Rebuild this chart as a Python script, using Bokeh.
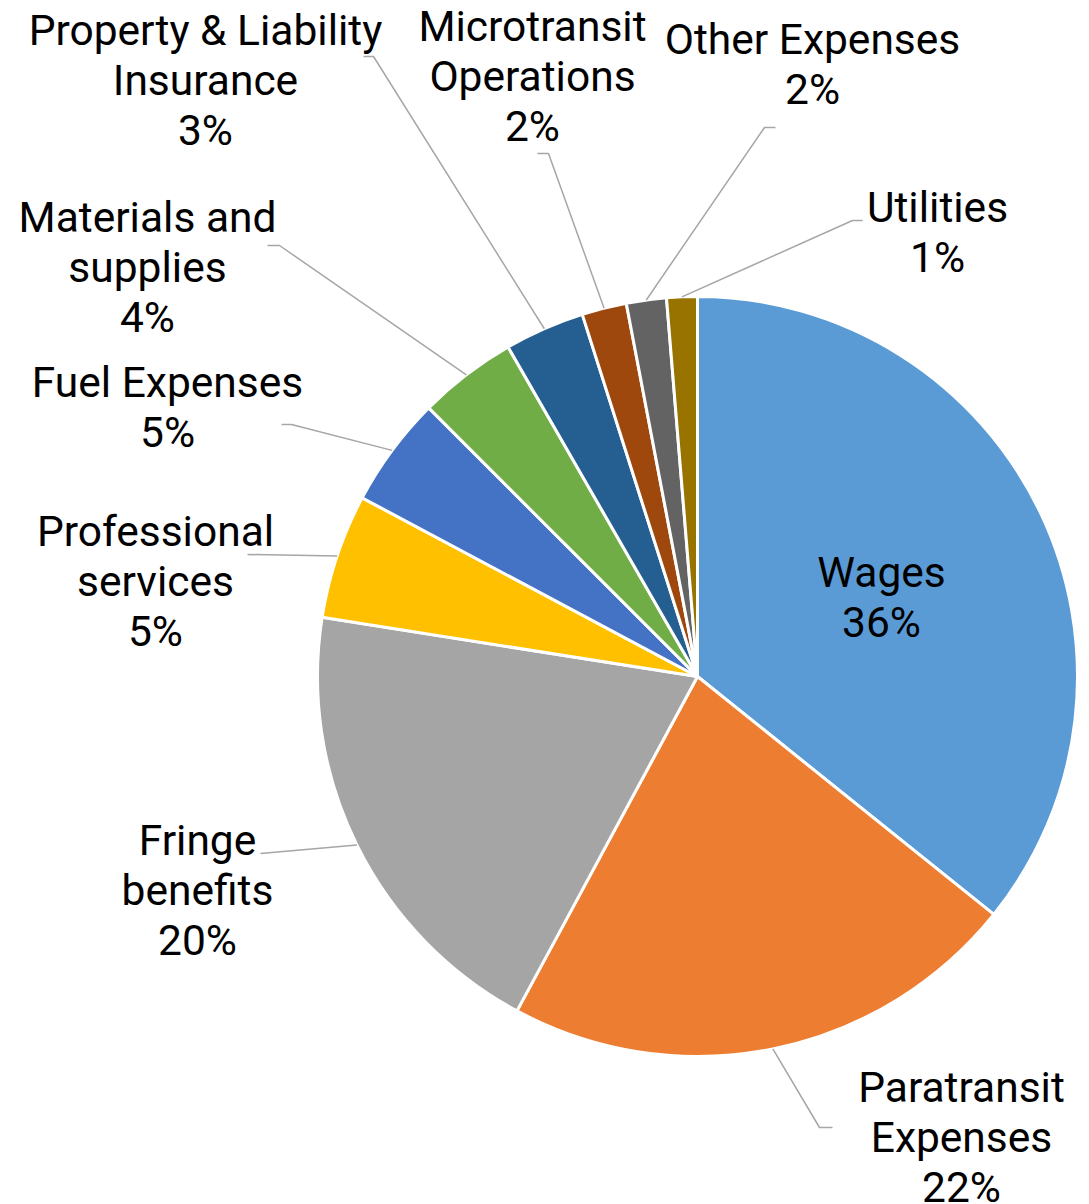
import math
from bokeh.plotting import figure
from bokeh.models import Range1d, ColumnDataSource
from bokeh.core.properties import value
from bokeh.embed import file_html
from bokeh.resources import INLINE

# ---- data ----
categories = ["Wages", "Paratransit Expenses", "Fringe benefits", "Professional services",
              "Fuel Expenses", "Materials and supplies", "Property & Liability Insurance",
              "Microtransit Operations", "Other Expenses", "Utilities"]
label_text = ["Wages", "Paratransit\nExpenses", "Fringe\nbenefits", "Professional\nservices",
              "Fuel Expenses", "Materials and\nsupplies", "Property & Liability\nInsurance",
              "Microtransit\nOperations", "Other Expenses", "Utilities"]
shares = [35.75, 22.1, 19.6, 5.3, 4.7, 4.2, 3.4, 1.9, 1.7, 1.3]
colors = ["#5B9BD5", "#ED7D31", "#A5A5A5", "#FFC000", "#4472C4",
          "#70AD47", "#255E91", "#9E480E", "#636363", "#997300"]

# ---- layout (reference pixel coords; y measured from top) ----
W, H = 1089, 1204
cx, cy_top, R = 697, 676, 380
label_pos = [(881, 597), (961, 1137), (197, 890), (155, 581), (167, 407),
             (147, 267), (205, 80), (532, 76), (812, 64), (937, 232)]
# leader elbow and stub end (None for inside label)
leader_pts = [None, [(819, 1127), (832, 1127)], [(260, 853)], [(247, 554)],
              [(291, 424), (281, 424)], [(279, 245), (267, 245)],
              [(373, 56), (363, 56)], [(548, 153), (537, 153)],
              [(764, 127), (775, 127)], [(852, 220), (862, 220)]]

def Y(y_top):
    return H - y_top

p = figure(width=W, height=H, output_backend="svg", toolbar_location=None,
           x_range=Range1d(0, W), y_range=Range1d(0, H),
           min_border=0)
p.axis.visible = False
p.grid.visible = False
p.outline_line_color = None
p.background_fill_color = "white"

total = sum(shares)
starts, ends, mids = [], [], []
cum = 0.0
for s in shares:
    a0 = cum / total * 2 * math.pi
    cum += s
    a1 = cum / total * 2 * math.pi
    starts.append(math.pi / 2 - a0)
    ends.append(math.pi / 2 - a1)
    mids.append((a0 + a1) / 2)

src = ColumnDataSource(dict(x=[cx] * len(shares), y=[Y(cy_top)] * len(shares),
                            start=starts, end=ends, color=colors, name=categories))
p.wedge(x="x", y="y", radius=R, start_angle="start", end_angle="end",
        direction="clock", fill_color="color", line_color="white", line_width=3,
        source=src)

# leader lines
xs, ys = [], []
for m, pts in zip(mids, leader_pts):
    if pts is None:
        continue
    ex = cx + R * math.sin(m)
    ey = cy_top - R * math.cos(m)
    lx = [ex] + [q[0] for q in pts]
    ly = [Y(ey)] + [Y(q[1]) for q in pts]
    xs.append(lx)
    ys.append(ly)
p.multi_line(xs=xs, ys=ys, line_color="#A6A6A6", line_width=1.5)

texts = [f"{t}\n{round(s / total * 100)}%" for t, s in zip(label_text, shares)]
p.text(x=[q[0] for q in label_pos], y=[Y(q[1]) for q in label_pos], text=texts,
       text_font=value("Roboto"), text_font_size="42.5px", text_color="black",
       text_align="center", text_baseline="middle", text_line_height=1.02)

open("out.html", "w").write(file_html(p, INLINE))
